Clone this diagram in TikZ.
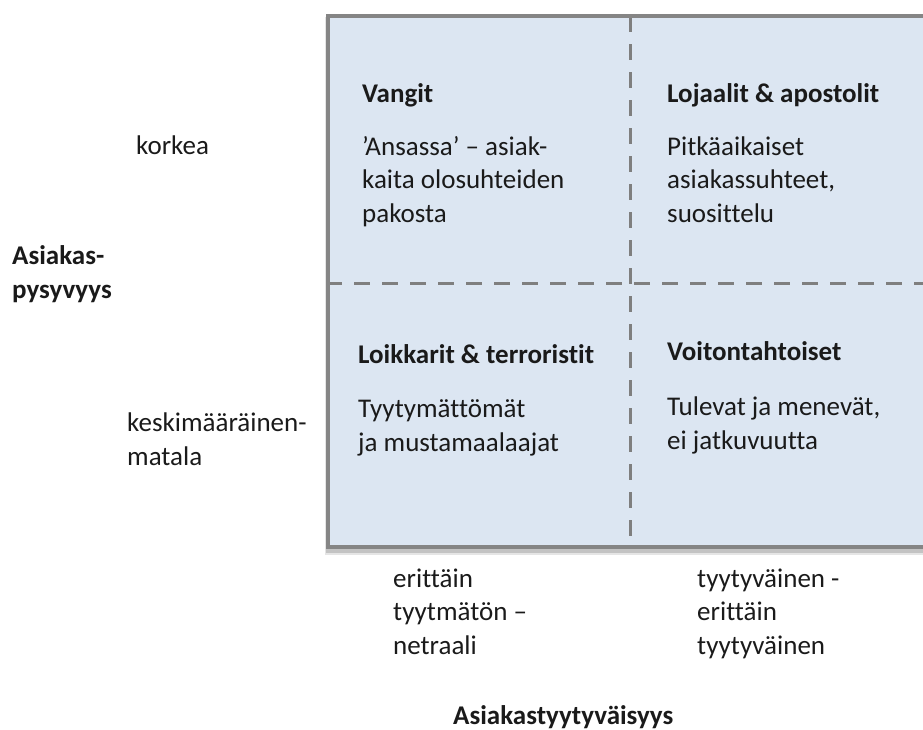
\documentclass[tikz,border=0pt]{standalone}
\usepackage{fontspec}
\setmainfont[Ligatures=NoCommon]{Carlito}
\definecolor{cellfill}{HTML}{DCE6F2}
\definecolor{framegrey}{HTML}{858585}
\definecolor{divgrey}{HTML}{7F7F7F}
\definecolor{txt}{HTML}{1A1A1A}
\begin{document}
\begin{tikzpicture}[x=1pt,y=-1pt,
  % multi-line nodes sit on the baseline of their last line
  lbl/.style={anchor=base west, inner sep=0pt, align=left, text=txt,
    font=\fontsize{27}{33.5}\selectfont},
  ttl/.style={lbl, font=\bfseries\fontsize{27}{33.5}\selectfont},
  divider/.style={draw=divgrey, line width=3pt, dash pattern=on 16pt off 12pt}]
\useasboundingbox (0,0) rectangle (923,729);

% matrix frame with a soft drop shadow, running off the right edge
\begin{scope}
  \clip (0,0) rectangle (923,729);
  \fill[black, opacity=0.10] (325,17) rectangle (940,555);
  \fill[black, opacity=0.15] (325.5,17) rectangle (940,552.5);
  \draw[draw=framegrey, fill=cellfill, line width=3.5pt] (328,16) rectangle (940,547);
  \coordinate (vtop) at (630,18);
  \coordinate (vbot) at (630,545);
  \coordinate (hl) at (330,283);
  \coordinate (hr) at (940,283);
  \draw[divider, dash phase=2pt] (vtop) -- (vbot);
  \draw[divider, dash phase=4pt] (hl) -- (hr);
\end{scope}

% quadrant titles and descriptions
\node[ttl] (q1t) at (362,102) {Vangit};
\node[lbl] (q1d) at (362,222) {’Ansassa’ – asiak-\\kaita olosuhteiden\\pakosta};
\node[ttl] (q2t) at (667,102) {Lojaalit \& apostolit};
\node[lbl] (q2d) at (667,222) {Pitkäaikaiset\\asiakassuhteet,\\suosittelu};
\node[ttl] (q3t) at (358,363) {Loikkarit \& terroristit};
\node[lbl] (q3d) at (358,451) {Tyytymättömät\\ja mustamaalaajat};
\node[ttl] (q4t) at (667,360) {Voitontahtoiset};
\node[lbl] (q4d) at (667,449) {Tulevat ja menevät,\\ei jatkuvuutta};

% vertical axis
\node[lbl] (yhi) at (136,154) {korkea};
\node[ttl] (ylab) at (12,298) {Asiakas-\\pysyvyys};
\node[lbl] (ylo) at (127,465) {keskimääräinen-\\matala};

% horizontal axis
\node[lbl] (xlo) at (393,654) {erittäin\\tyytmätön –\\netraali};
\node[lbl] (xhi) at (697,654) {tyytyväinen -\\erittäin\\tyytyväinen};
\node[ttl] (xlab) at (453,724) {Asiakastyytyväisyys};
\end{tikzpicture}
\end{document}
